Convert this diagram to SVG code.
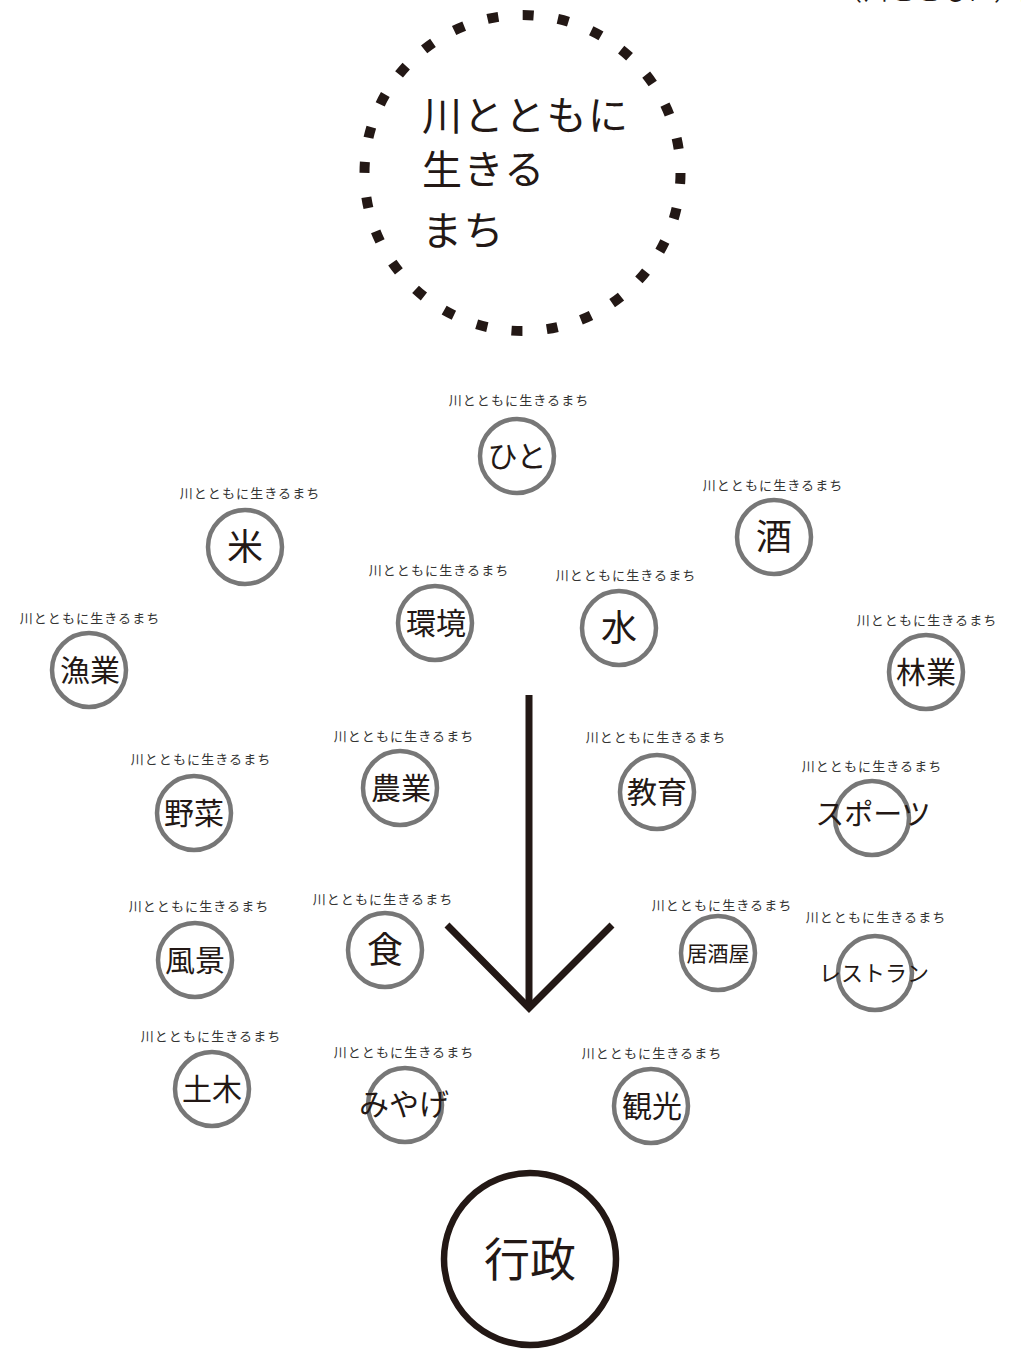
<svg xmlns="http://www.w3.org/2000/svg" width="1021" height="1353" viewBox="0 0 1021 1353">
<style>
  text { font-family: "Noto Sans CJK JP", "Noto Sans CJK SC", sans-serif; fill: #231815; }
  .cap { font-size: 13px; letter-spacing: 1.1px; text-anchor: middle; fill: #333; }
  .ring { fill: #fff; stroke: #777; stroke-width: 4.5; }
  .lbl { font-size: 30px; text-anchor: middle; }
  .big { font-size: 36px; text-anchor: middle; }
  .line { stroke: #231815; stroke-width: 7; fill: none; }
  .ttl { font-size: 40px; letter-spacing: 1.5px; }
</style>
<rect width="1021" height="1353" fill="#fff"/>
<text x="838" y="0" style="font-size:24px;letter-spacing:2px">（川とともに）生</text>

<g id="title">
  <circle cx="522.5" cy="173" r="158" fill="none" stroke="#231815" stroke-width="10" stroke-dasharray="11 24.45"/>
  <text class="ttl" x="422" y="130">川とともに</text>
  <text class="ttl" x="422" y="184">生きる</text>
  <text class="ttl" x="422" y="245">まち</text>
</g>

<g id="connectors">
  <line class="line" x1="529" y1="695" x2="529" y2="1008"/>
  <polyline class="line" points="447,925 529,1008 612,925"/>
</g>

<g id="hito"><text class="cap" x="519" y="405">川とともに生きるまち</text><circle class="ring" cx="517" cy="456" r="37"/><text class="lbl" x="517" y="467">ひと</text></g>
<g id="kome"><text class="cap" x="250" y="498">川とともに生きるまち</text><circle class="ring" cx="245" cy="547" r="37"/><text class="big" x="245" y="560">米</text></g>
<g id="sake"><text class="cap" x="773" y="490">川とともに生きるまち</text><circle class="ring" cx="774" cy="537" r="37"/><text class="big" x="774" y="550">酒</text></g>
<g id="kankyo"><text class="cap" x="439" y="575">川とともに生きるまち</text><circle class="ring" cx="435" cy="623" r="37"/><text class="lbl" x="436" y="634">環境</text></g>
<g id="mizu"><text class="cap" x="626" y="580">川とともに生きるまち</text><circle class="ring" cx="619" cy="628" r="37"/><text class="big" x="619" y="641">水</text></g>
<g id="gyogyo"><text class="cap" x="90" y="623">川とともに生きるまち</text><circle class="ring" cx="89" cy="670" r="37"/><text class="lbl" x="90" y="681">漁業</text></g>
<g id="ringyo"><text class="cap" x="927" y="625">川とともに生きるまち</text><circle class="ring" cx="926" cy="672" r="37"/><text class="lbl" x="926" y="683">林業</text></g>
<g id="nogyo"><text class="cap" x="404" y="741">川とともに生きるまち</text><circle class="ring" cx="400" cy="788" r="37"/><text class="lbl" x="401" y="799">農業</text></g>
<g id="kyoiku"><text class="cap" x="656" y="742">川とともに生きるまち</text><circle class="ring" cx="657" cy="792" r="37"/><text class="lbl" x="657" y="803">教育</text></g>
<g id="yasai"><text class="cap" x="201" y="764">川とともに生きるまち</text><circle class="ring" cx="194" cy="813" r="37"/><text class="lbl" x="194" y="824">野菜</text></g>
<g id="sports"><text class="cap" x="872" y="771">川とともに生きるまち</text><circle class="ring" cx="872" cy="818" r="37"/><text class="lbl" x="873" y="825" style="font-size:29px">スポーツ</text></g>
<g id="fukei"><text class="cap" x="199" y="911">川とともに生きるまち</text><circle class="ring" cx="195" cy="960" r="37"/><text class="lbl" x="195" y="971">風景</text></g>
<g id="shoku"><text class="cap" x="383" y="904">川とともに生きるまち</text><circle class="ring" cx="385" cy="950" r="37"/><text class="big" x="385" y="963">食</text></g>
<g id="izakaya"><text class="cap" x="722" y="910">川とともに生きるまち</text><circle class="ring" cx="718" cy="953" r="37"/><text class="lbl" x="718" y="961" style="font-size:21px">居酒屋</text></g>
<g id="restaurant"><text class="cap" x="876" y="922">川とともに生きるまち</text><circle class="ring" cx="875" cy="973" r="37"/><text class="lbl" x="874" y="981" style="font-size:22px">レストラン</text></g>
<g id="doboku"><text class="cap" x="211" y="1041">川とともに生きるまち</text><circle class="ring" cx="212" cy="1089" r="37"/><text class="lbl" x="212" y="1100">土木</text></g>
<g id="miyage"><text class="cap" x="404" y="1057">川とともに生きるまち</text><circle class="ring" cx="405" cy="1105" r="37"/><text class="lbl" x="404" y="1115">みやげ</text></g>
<g id="kanko"><text class="cap" x="652" y="1058">川とともに生きるまち</text><circle class="ring" cx="651" cy="1106" r="37"/><text class="lbl" x="652" y="1117">観光</text></g>

<g id="gyosei">
  <circle cx="530" cy="1259" r="86" fill="#fff" stroke="#231815" stroke-width="6.5"/>
  <text x="530" y="1276" style="font-size:46px;text-anchor:middle">行政</text>
</g>
</svg>
